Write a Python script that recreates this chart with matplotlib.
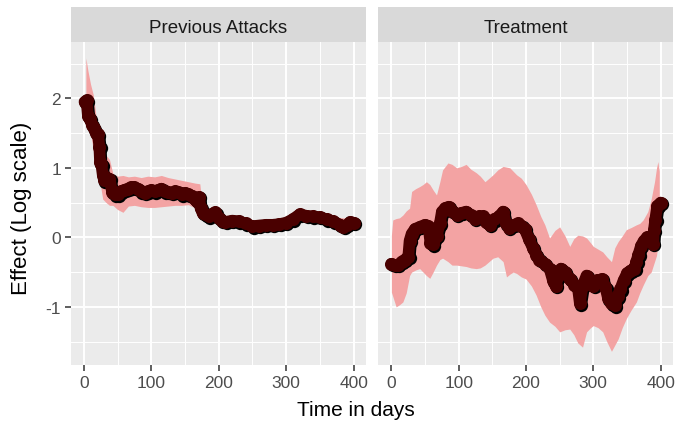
import matplotlib
matplotlib.use("Agg")
import matplotlib.pyplot as plt
import matplotlib.transforms as mtransforms
import numpy as np

plt.rcParams['font.family'] = ['Liberation Sans', 'DejaVu Sans']

panel_titles = ["Previous Attacks", "Treatment"]
x_ticks = [0, 100, 200, 300, 400]
y_ticks = [-1, 0, 1, 2]

# Previous Attacks: estimate line
pa_days = [1, 4, 6, 9, 12, 15, 18, 21, 23, 24, 26, 28, 30, 34, 38, 42, 46, 50, 55, 60,
           65, 70, 75, 80, 85, 90, 95, 100, 105, 110, 115, 120, 125, 130, 135, 140, 145,
           150, 155, 160, 165, 168, 171, 173, 176, 180, 185, 190, 195, 200, 205, 210, 220,
           230, 240, 250, 260, 270, 280, 290, 300, 310, 320, 330, 340, 350, 360, 370, 380,
           385, 390, 395, 400]
pa_effect = [1.95, 1.97, 1.75, 1.70, 1.62, 1.57, 1.50, 1.48, 1.30, 1.08, 1.05, 0.90, 0.82,
             0.85, 0.84, 0.65, 0.62, 0.62, 0.66, 0.68, 0.70, 0.72, 0.72, 0.70, 0.66, 0.64,
             0.66, 0.68, 0.66, 0.68, 0.70, 0.66, 0.65, 0.64, 0.66, 0.65, 0.62, 0.64, 0.62,
             0.60, 0.55, 0.52, 0.58, 0.42, 0.35, 0.33, 0.30, 0.34, 0.36, 0.28, 0.24, 0.22,
             0.24, 0.23, 0.20, 0.16, 0.17, 0.18, 0.18, 0.19, 0.21, 0.26, 0.33, 0.31, 0.30,
             0.29, 0.26, 0.23, 0.18, 0.15, 0.18, 0.22, 0.21]

# Previous Attacks: ribbon
pa_rib_days = [3, 6, 10, 14, 18, 23, 28, 33, 38, 43, 50, 58, 66, 75, 85, 95, 105, 115, 125,
               135, 145, 155, 165, 172, 176, 185, 200, 220, 250, 280, 310, 340, 370, 400]
pa_upper = [2.58, 2.40, 2.20, 2.05, 1.75, 1.50, 1.25, 1.18, 1.12, 0.92, 0.88, 0.89, 0.87,
            0.88, 0.86, 0.88, 0.87, 0.89, 0.86, 0.84, 0.82, 0.80, 0.78, 0.77, 0.41, 0.36,
            0.34, 0.30, 0.22, 0.24, 0.32, 0.36, 0.29, 0.27]
pa_lower = [1.70, 1.60, 1.50, 1.25, 1.10, 0.84, 0.55, 0.50, 0.46, 0.46, 0.40, 0.36, 0.45,
            0.46, 0.44, 0.43, 0.43, 0.44, 0.45, 0.46, 0.46, 0.47, 0.42, 0.38, 0.29, 0.24,
            0.22, 0.18, 0.10, 0.12, 0.20, 0.24, 0.17, 0.15]

# Treatment: estimate line
tr_days = [0, 5, 10, 15, 20, 25, 27, 30, 35, 42, 50, 55, 58, 62, 67, 72, 75, 80, 85, 90, 97,
           104, 111, 118, 124, 130, 136, 141, 146, 153, 160, 166, 170, 175, 182, 188, 193,
           198, 204, 210, 215, 220, 228, 235, 240, 244, 248, 252, 258, 265, 272, 277, 280,
           284, 290, 295, 300, 306, 313, 318, 322, 327, 332, 336, 340, 345, 350, 355, 361,
           364, 367, 371, 375, 380, 385, 389, 390, 392, 395, 400]
tr_effect = [-0.38, -0.40, -0.40, -0.35, -0.32, -0.28, -0.05, 0.05, 0.12, 0.15, 0.18, 0.16,
             -0.08, -0.10, 0.02, 0.20, 0.37, 0.42, 0.44, 0.38, 0.32, 0.35, 0.37, 0.32, 0.27,
             0.30, 0.30, 0.22, 0.18, 0.26, 0.30, 0.37, 0.20, 0.14, 0.18, 0.20, 0.17, 0.12,
             -0.02, -0.15, -0.25, -0.32, -0.38, -0.45, -0.62, -0.70, -0.55, -0.45, -0.50,
             -0.60, -0.68, -0.72, -0.95, -0.70, -0.55, -0.62, -0.70, -0.62, -0.60, -0.72,
             -0.88, -0.95, -0.98, -0.85, -0.75, -0.62, -0.52, -0.48, -0.45, -0.35, -0.25,
             -0.12, -0.05, 0.00, -0.03, -0.09, 0.10, 0.25, 0.45, 0.50]

# Treatment: ribbon
tr_rib_days = [0, 2, 7, 12, 17, 22, 27, 30, 36, 42, 47, 52, 57, 62, 67, 72, 76, 84, 90, 97,
               104, 111, 118, 126, 132, 139, 145, 151, 158, 166, 171, 176, 181, 186, 193,
               200, 208, 215, 222, 228, 235, 243, 250, 258, 265, 271, 277, 284, 290, 296,
               300, 307, 314, 320, 327, 332, 337, 343, 349, 356, 364, 369, 374, 381, 386,
               391, 394, 396, 398]
tr_upper = [0.03, 0.25, 0.27, 0.28, 0.32, 0.38, 0.42, 0.66, 0.70, 0.73, 0.76, 0.80, 0.76,
            0.68, 0.61, 0.80, 0.97, 1.07, 1.05, 1.00, 1.02, 1.05, 0.98, 0.93, 0.88, 0.80,
            0.85, 0.90, 0.97, 1.02, 1.01, 1.00, 0.95, 0.90, 0.85, 0.76, 0.62, 0.47, 0.30,
            0.18, -0.01, 0.10, 0.15, 0.02, -0.13, -0.02, 0.03, 0.02, -0.01, -0.08, -0.13,
            -0.17, -0.21, -0.28, -0.35, -0.15, -0.06, 0.02, 0.11, 0.14, 0.18, 0.20, 0.25,
            0.37, 0.55, 0.80, 1.00, 1.09, 0.95]
tr_lower = [-0.79, -0.85, -1.00, -0.97, -0.93, -0.80, -0.55, -0.50, -0.47, -0.45, -0.50,
            -0.55, -0.59, -0.50, -0.40, -0.32, -0.30, -0.35, -0.40, -0.40, -0.41, -0.42,
            -0.44, -0.45, -0.44, -0.40, -0.35, -0.30, -0.28, -0.35, -0.57, -0.53, -0.50,
            -0.52, -0.57, -0.60, -0.70, -0.83, -1.00, -1.12, -1.22, -1.28, -1.36, -1.33,
            -1.32, -1.40, -1.52, -1.58, -1.36, -1.30, -1.27, -1.30, -1.36, -1.50, -1.64,
            -1.55, -1.46, -1.30, -1.17, -1.05, -0.93, -0.80, -0.69, -0.55, -0.50, -0.35,
            -0.26, -0.10, 0.03]

W, H = 678, 427
fig = plt.figure(figsize=(W / 100, H / 100), dpi=100)

def fx(px):
    return px / W

def fy(py):
    return 1 - py / H

panel_top, panel_bot = 43.3, 366.0
strip_top = 7.5
panels = [(70.7, 365.7), (378.3, 672.7)]

bg = "#ebebeb"
strip_bg = "#d9d9d9"
rib_col = "#f3a3a3"
pt_col = "#4a0000"
txt_col = "#4d4d4d"

series = [
    (pa_days, pa_effect, pa_rib_days, pa_upper, pa_lower),
    (tr_days, tr_effect, tr_rib_days, tr_upper, tr_lower),
]

for i, ((x0, x1), title, (d, e, rd, up, lo)) in enumerate(zip(panels, panel_titles, series)):
    ax = fig.add_axes([fx(x0), fy(panel_bot), fx(x1 - x0), (panel_bot - panel_top) / H])
    ax.set_facecolor(bg)
    ax.set_xlim(-19.5, 418)
    ax.set_ylim(-1.837, 2.806)
    ax.set_xticks(x_ticks)
    ax.set_yticks(y_ticks)
    ax.set_xticks([50, 150, 250, 350], minor=True)
    ax.set_yticks([-1.5, -0.5, 0.5, 1.5, 2.5], minor=True)
    ax.grid(True, which="major", color="white", linewidth=1.4)
    ax.grid(True, which="minor", color="white", linewidth=0.7)
    ax.set_axisbelow(True)
    for s in ax.spines.values():
        s.set_visible(False)
    ax.tick_params(axis="both", which="minor", length=0)
    ax.tick_params(axis="x", which="major", length=4, width=1.1, color="#333333",
                   labelsize=12.5, labelcolor=txt_col, pad=3)
    if i == 0:
        ax.tick_params(axis="y", which="major", length=4, width=1.1, color="#333333",
                       labelsize=12.5, labelcolor=txt_col, pad=3)
        ax.set_yticklabels([str(v) for v in y_ticks])
    else:
        ax.tick_params(axis="y", which="major", length=0, labelleft=False)

    ax.fill_between(rd, lo, up, color=rib_col, linewidth=0, zorder=2)
    shadow = mtransforms.offset_copy(ax.transData, fig=fig, x=1.3, y=-1.3, units="dots")
    ax.plot(d, e, color="black", linewidth=8.6, solid_capstyle="round",
            solid_joinstyle="round", marker="o", markersize=9.6, markerfacecolor="black",
            markeredgewidth=0, zorder=3, transform=shadow)
    ax.plot(d, e, color=pt_col, linewidth=8.4, solid_capstyle="round",
            solid_joinstyle="round", marker="o", markersize=9.4, markerfacecolor=pt_col,
            markeredgewidth=0, zorder=4)

    # strip
    sax = fig.add_axes([fx(x0), fy(panel_top), fx(x1 - x0), (panel_top - strip_top) / H])
    sax.set_facecolor(strip_bg)
    sax.set_xticks([])
    sax.set_yticks([])
    for s in sax.spines.values():
        s.set_visible(False)
    sax.text(0.5, 0.42, title, ha="center", va="center", fontsize=13.5,
             color="#1a1a1a", transform=sax.transAxes)

fig.text(fx(356), fy(411), "Time in days", ha="center", va="center", fontsize=15,
         color="black")
fig.text(fx(22), fy(208), "Effect (Log scale)", ha="center", va="center", fontsize=16,
         color="black", rotation=90)

fig.savefig("out.png", dpi=100)
